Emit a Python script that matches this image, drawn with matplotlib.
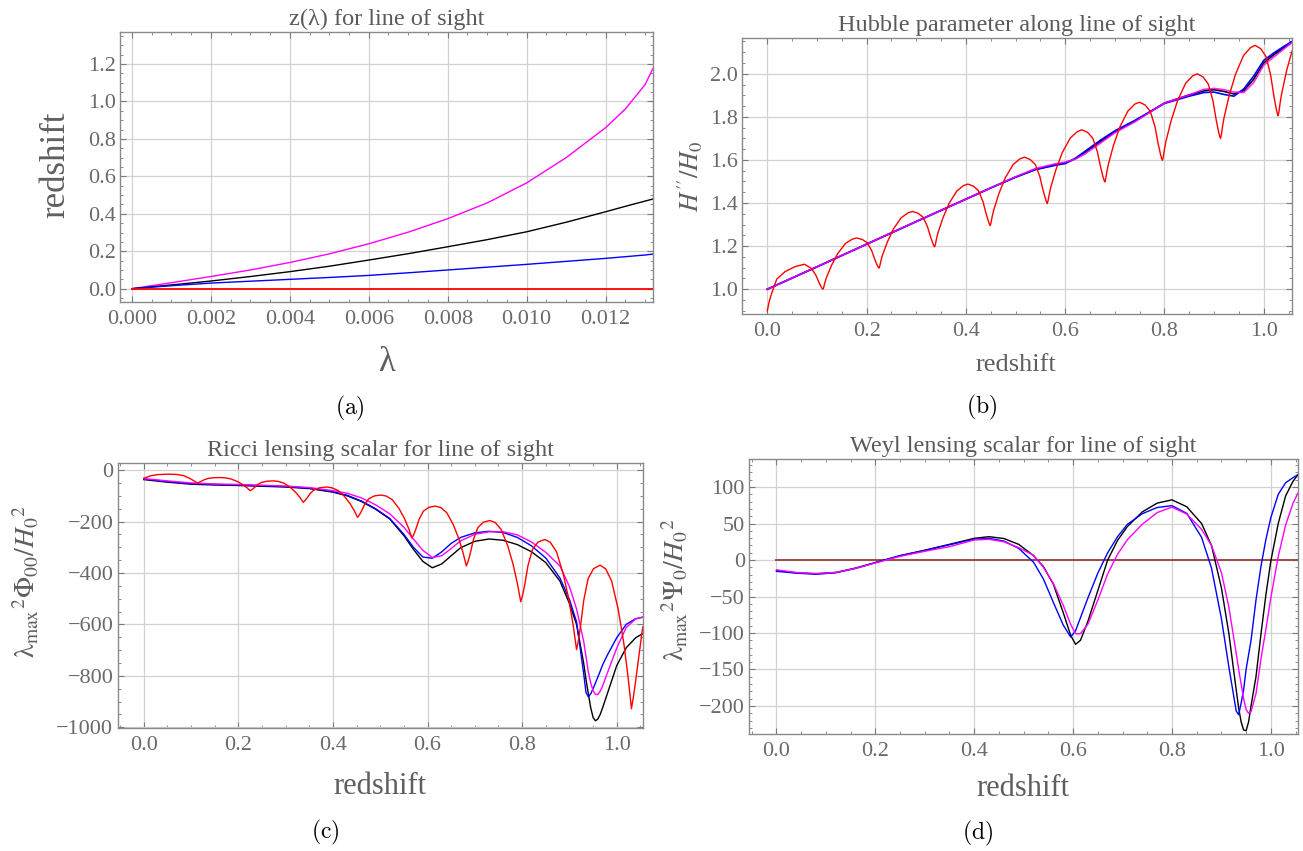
import numpy as np
import matplotlib
matplotlib.use("Agg")
import matplotlib.pyplot as plt
from matplotlib.ticker import MultipleLocator, FuncFormatter

plt.rcParams['font.family'] = ['Liberation Serif', 'DejaVu Serif']
plt.rcParams['mathtext.fontset'] = 'stix'

# ---------------- (a) z(lambda) ----------------
lam = [0, .001, .002, .003, .004, .005, .006, .007, .008, .009, .010, .011, .012, .0125, .013, .0132]
z_magenta_a = [0, .032, .065, .100, .140, .186, .240, .302, .374, .458, .565, .700, .860, .960, 1.09, 1.177]
z_black_a = [0, .020, .041, .065, .091, .120, .153, .187, .224, .262, .304, .355, .411, .440, .468, .479]
z_blue_a = [0, .016, .030, .040, .050, .060, .071, .085, .100, .115, .130, .146, .162, .171, .180, .185]
z_red_a = [0] * len(lam)

# ---------------- (b) Hubble parameter ----------------
zb = [0, .1, .2, .3, .4, .45, .5, .54, .58, .6, .62, .64, .67, .7, .74, .8, .85, .88, .9,
      .92, .94, .96, .98, 1.0, 1.02, 1.04, 1.057]
h_black = [1.0, 1.104, 1.209, 1.314, 1.418, 1.47, 1.52, 1.556, 1.578, 1.586, 1.605, 1.635, 1.684,
           1.73, 1.78, 1.864, 1.902, 1.921, 1.926, 1.918, 1.906, 1.922, 1.975, 2.05, 2.088, 2.12, 2.148]
h_blue = [1.0, 1.104, 1.209, 1.314, 1.418, 1.47, 1.52, 1.555, 1.575, 1.583, 1.607, 1.64, 1.69,
          1.735, 1.783, 1.862, 1.896, 1.913, 1.915, 1.904, 1.896, 1.93, 1.99, 2.062, 2.096, 2.126, 2.15]
h_magenta = [1.0, 1.104, 1.209, 1.314, 1.418, 1.47, 1.522, 1.56, 1.582, 1.59, 1.603, 1.628, 1.676,
             1.726, 1.776, 1.864, 1.902, 1.928, 1.932, 1.926, 1.915, 1.913, 1.96, 2.04, 2.077, 2.114, 2.145]

zb_red = [0, .004, .0088, .019, .036, .056, .075, .0885, .0974, .1036, .108, .1103, .112,
          .1137, .1160, .1188, .129, .1414, .1572, .1708, .1798, .1911, .2013, .2103, .2165, .2210, .2233, .225,
          .2267, .2289, .2317, .2418, .2541, .2698, .2832, .2922, .3034, .3135, .3224, .3286, .3331, .3353, .337,
          .3387, .3409, .3437, .3538, .3661, .3818, .3952, .4042, .4154, .4255, .4344, .4406, .4451, .4473, .449,
          .4507, .4530, .4559, .4663, .4789, .4950, .5088, .518, .5295, .5399, .5490, .5554, .5600, .5623, .564,
          .5657, .5681, .5710, .5814, .5942, .6104, .6243, .6336, .6452, .6556, .6649, .6713, .6759, .6783, .680,
          .6817, .6841, .6870, .6974, .7102, .7264, .7403, .7496, .7612, .7716, .7809, .7873, .7919, .7943, .796,
          .7978, .8001, .8030, .8136, .8264, .8428, .8568, .8662, .8779, .8884, .8978, .9042, .9089, .9112, .913,
          .9147, .9171, .9200, .9304, .9432, .9594, .9733, .9826, .9942, 1.0046, 1.0139, 1.0203, 1.0249, 1.0273, 1.029,
          1.0307, 1.0331, 1.036, 1.0464, 1.057]
h_red = [0.90, 0.945, 0.981, 1.047, 1.082, 1.105, 1.116, 1.097, 1.067, 1.034, 1.013, 1.004, 1.0,
         1.0095, 1.031, 1.052, 1.109, 1.164, 1.212, 1.232, 1.238, 1.231, 1.216, 1.179, 1.139, 1.113, 1.1029, 1.098,
         1.1085, 1.132, 1.156, 1.219, 1.280, 1.332, 1.354, 1.361, 1.353, 1.335, 1.292, 1.245, 1.215, 1.2027, 1.197,
         1.2086, 1.2348, 1.261, 1.331, 1.398, 1.456, 1.481, 1.488, 1.478, 1.457, 1.407, 1.352, 1.317, 1.3027, 1.296,
         1.3087, 1.3372, 1.366, 1.442, 1.515, 1.578, 1.605, 1.613, 1.602, 1.579, 1.523, 1.460, 1.422, 1.4055, 1.398,
         1.4117, 1.4425, 1.473, 1.555, 1.634, 1.702, 1.731, 1.740, 1.728, 1.701, 1.638, 1.568, 1.525, 1.5065, 1.498,
         1.5128, 1.5461, 1.579, 1.668, 1.753, 1.827, 1.859, 1.868, 1.855, 1.825, 1.755, 1.676, 1.628, 1.6075, 1.598,
         1.6141, 1.6503, 1.686, 1.783, 1.875, 1.956, 1.990, 2.000, 1.985, 1.952, 1.874, 1.787, 1.733, 1.7105, 1.700,
         1.7173, 1.7562, 1.795, 1.899, 1.998, 2.085, 2.121, 2.132, 2.116, 2.080, 1.995, 1.900, 1.841, 1.8164, 1.805,
         1.8234, 1.8648, 1.906, 2.017, 2.105]

# ---------------- (c) Ricci lensing scalar ----------------
zc = [0, .05, .1, .15, .2, .25, .3, .35, .4, .43, .46, .49, .52, .55, .57, .59, .61, .63, .65, .67,
      .70, .73, .76, .79, .82, .85, .88, .90, .915, .93, .935, .94, .945, .95, .955, .96, .965, .97, .98,
      1.0, 1.02, 1.04, 1.055]
r_black = [-37, -47, -55, -58, -60, -63, -66, -72, -86, -100, -122, -152, -190, -255, -308, -355, -380,
           -365, -333, -302, -277, -268, -273, -290, -318, -360, -432, -519, -600, -750, -815, -870, -925,
           -962, -975, -968, -950, -925, -870, -760, -691, -652, -636]
r_blue = [-35, -45, -53, -56, -58, -61, -64, -70, -84, -98, -120, -150, -188, -250, -300, -338, -343,
          -318, -285, -262, -244, -238, -243, -262, -295, -342, -420, -503, -590, -790, -865, -882, -870,
          -850, -828, -805, -782, -758, -720, -652, -600, -578, -572]
r_magenta = [-33, -42, -50, -54, -56, -59, -62, -68, -80, -90, -108, -135, -170, -222, -268, -312, -340,
             -333, -305, -275, -250, -240, -240, -252, -280, -320, -373, -453, -540, -665, -725, -785, -828,
             -858, -872, -873, -860, -840, -790, -692, -612, -579, -572]

zc_red = [0, .015, .03, .05, .07, .085, .097, .106, .113,
          .1169, .1214, .1276, .1365, .1477, .1612, .1724, .1847, .1981, .2093, .2183, .225,
          .2289, .2334, .2396, .2485, .2597, .2732, .2844, .2967, .3101, .3213, .3303, .337,
          .3410, .3456, .3520, .3611, .3727, .3864, .3980, .4106, .4244, .4359, .4451, .452,
          .4560, .4606, .4670, .4762, .4877, .5015, .5130, .5256, .5394, .5509, .5601, .567,
          .5710, .5756, .5820, .5912, .6027, .6165, .6280, .6406, .6544, .6659, .6751, .682,
          .6860, .6906, .6970, .7062, .7177, .7315, .7430, .7556, .7694, .7809, .7901, .797,
          .8011, .8059, .8123, .8218, .8336, .8477, .8595, .8725, .8867, .8985, .9079, .915,
          .9191, .9237, .9301, .9394, .9510, .9649, .9765, .9892, 1.0032, 1.0148, 1.0240, 1.031,
          1.035, 1.04, 1.047, 1.055]
r_red = [-32, -22, -17.5, -16, -17, -22, -32, -42, -50,
         -47.7, -43.9, -37.8, -32.4, -29.8, -29, -30.3, -34.6, -44.8, -56.5, -68.8, -80,
         -75.8, -69, -58, -48.1, -43.5, -42, -44.1, -51.1, -67.7, -86.8, -106.7, -125,
         -118.5, -107.9, -90.8, -75.4, -68.4, -66, -69, -79, -102.6, -129.7, -158, -184,
         -174.4, -158.8, -133.5, -110.9, -100.5, -97, -101.2, -115.4, -148.8, -187.2, -227.3, -264,
         -250.4, -228, -192.1, -159.8, -145, -140, -145.8, -165.6, -212.2, -265.8, -321.7, -373,
         -353.5, -321.7, -270.3, -224.3, -203.1, -196, -203.9, -230.8, -294, -366.6, -442.5, -512,
         -485.4, -441.8, -371.6, -308.7, -279.7, -270, -280.7, -317.1, -402.7, -501.1, -603.8, -698,
         -661.9, -602.9, -507.8, -422.5, -383.1, -370, -384, -431.4, -543, -671.3, -805.2, -928,
         -885, -820, -720, -610]

# ---------------- (d) Weyl lensing scalar ----------------
zd = [0, .04, .08, .12, .16, .2, .25, .3, .35, .4, .43, .46, .49, .52, .54, .56, .58, .595, .605, .615,
      .63, .65, .67, .69, .71, .74, .77, .8, .83, .86, .88, .9, .915, .93, .935, .94, .945, .95, .955, .96,
      .97, .98, .99, 1.0, 1.015, 1.03, 1.045, 1.055]
w_black = [-14.5, -17.5, -18.8, -17, -11, -3.5, 6, 13.5, 21.5, 29.8, 32, 29.5, 21.5, 6, -9, -33, -72,
           -103, -115.6, -110, -84, -42, 0, 27, 46, 66, 78, 82.5, 73, 50, 20, -38, -100, -178, -203, -222,
           -233, -234, -222, -200, -160, -102, -48, -1.6, 50, 88, 108, 117]
w_blue = [-15.5, -18, -19.5, -17.5, -11.5, -3.5, 6, 13, 21, 28.4, 29.8, 26, 16, -3, -26, -58, -89,
          -105.5, -97, -79, -52, -18, 10, 32, 49, 63.5, 72, 74.5, 64, 31, -11, -80, -146, -207, -212, -196,
          -178, -150, -130, -110, -55, -9, 28, 58, 90, 106, 113, 117]
w_magenta = [-13.5, -17, -18.5, -17, -11.5, -4, 5, 12, 18.3, 27.5, 28.4, 25, 17, 6.5, -10, -32, -62,
             -88, -101, -101, -88, -55, -19, 8, 28, 49, 65, 72.5, 63, 42, 20, -17, -64, -128, -150, -170,
             -190, -205, -210, -208, -183, -136, -95, -52, 5, 48, 78, 91.8]
zd_red = [0, 1.055]
w_red = [0, 0]

W, H = 1303, 851
fig = plt.figure(figsize=(W / 100, H / 100), dpi=100)


def box(l, t, r, b):
    return [l / W, 1 - b / H, (r - l) / W, (b - t) / H]


def fmt(nd):
    def f(v, pos):
        s = f'{v:.{nd}f}'
        if float(s) == 0:
            s = s.lstrip('-')
        return s.replace('-', '\u2212')
    return FuncFormatter(f)


def style(ax, xlim, ylim, xmaj, xmin, ymaj, ymin, xnd, ynd):
    ax.set_xlim(*xlim)
    ax.set_ylim(*ylim)
    ax.xaxis.set_major_locator(MultipleLocator(xmaj))
    ax.xaxis.set_minor_locator(MultipleLocator(xmin))
    ax.yaxis.set_major_locator(MultipleLocator(ymaj))
    ax.yaxis.set_minor_locator(MultipleLocator(ymin))
    ax.xaxis.set_major_formatter(fmt(xnd))
    ax.yaxis.set_major_formatter(fmt(ynd))
    ax.grid(True, which='major', color='#d2d2d2', lw=0.9)
    ax.set_axisbelow(True)
    ax.tick_params(which='both', direction='in', top=True, right=True,
                   color='#7a7a7a', labelcolor='#6a6a6a', labelsize=16)
    ax.tick_params(which='major', length=4.5, width=0.8)
    ax.tick_params(which='minor', length=2.5, width=0.6)
    ax.tick_params(axis='x', pad=6)
    ax.tick_params(axis='y', pad=3)
    for s in ax.spines.values():
        s.set_color('#8a8a8a')
        s.set_linewidth(1.0)


def title(ax, s):
    ax.set_title(s, fontsize=17.5, color='#5a5a5a', pad=5)


lw = 1.0
gray = '#5f5f5f'

# (a)
ax = fig.add_axes(box(120, 32, 653, 302))
ax.plot(lam, z_magenta_a, color='#ff00ff', lw=lw)
ax.plot(lam, z_black_a, color='black', lw=lw)
ax.plot(lam, z_blue_a, color='#0000ff', lw=lw)
ax.plot(lam, z_red_a, color='#ff0000', lw=lw * 1.3)
style(ax, (-0.0003, 0.0132), (-0.071, 1.371), 0.002, 0.0005, 0.2, 0.05, 3, 1)
title(ax, 'z(λ) for line of sight')
fig.text(56 / W, 1 - 165 / H, 'redshift', rotation=90, fontsize=25, color=gray, ha='center', va='center')
fig.text(387 / W, 1 - 362 / H, 'λ', fontsize=25, color=gray, ha='center', va='center')

# (b)
ax = fig.add_axes(box(742, 38, 1292, 314))
ax.plot(zb, h_black, color='black', lw=lw * 1.2)
ax.plot(zb, h_blue, color='#0000ff', lw=lw * 1.2)
ax.plot(zb, h_magenta, color='#ff00ff', lw=lw * 1.2, alpha=0.85)
ax.plot(zb_red, h_red, color='#ff0000', lw=lw)
style(ax, (-0.051, 1.057), (0.885, 2.166), 0.2, 0.05, 0.2, 0.05, 1, 1)
title(ax, 'Hubble parameter along line of sight')
fig.text(1016 / W, 1 - 365 / H, 'redshift', fontsize=19, color=gray, ha='center', va='center')
fig.text(690 / W, 1 - 176 / H, r'$H^{\prime\prime}/H_0$', rotation=90, fontsize=19, color=gray,
         ha='center', va='center')

# (c)
ax = fig.add_axes(box(117.5, 463, 643, 728))
ax.plot(zc, r_black, color='black', lw=lw)
ax.plot(zc, r_blue, color='#0000ff', lw=lw)
ax.plot(zc, r_magenta, color='#ff00ff', lw=lw)
ax.plot(zc_red, r_red, color='#ff0000', lw=lw)
style(ax, (-0.0555, 1.0555), (-1003, 27.5), 0.2, 0.05, 200, 50, 1, 0)
title(ax, 'Ricci lensing scalar for line of sight')
fig.text(380 / W, 1 - 787 / H, 'redshift', fontsize=22, color=gray, ha='center', va='center')
fig.text(26 / W, 1 - 582 / H, r'$\mathrm{λ}_{\mathrm{max}}{}^{2}\mathrm{Φ}_{00}/H_{0}{}^{2}$',
         rotation=90, fontsize=20, color=gray, ha='center', va='center')

# (d)
ax = fig.add_axes(box(749, 459, 1298, 734))
ax.plot(zd_red, w_red, color='#a04848', lw=1.4)
ax.plot(zd, w_black, color='black', lw=lw)
ax.plot(zd, w_blue, color='#0000ff', lw=lw)
ax.plot(zd, w_magenta, color='#ff00ff', lw=lw)
style(ax, (-0.0556, 1.055), (-238.5, 138.5), 0.2, 0.05, 50, 10, 1, 0)
title(ax, 'Weyl lensing scalar for line of sight')
fig.text(1023 / W, 1 - 788 / H, 'redshift', fontsize=22, color=gray, ha='center', va='center')
fig.text(675 / W, 1 - 590 / H, r'$\mathrm{λ}_{\mathrm{max}}{}^{2}\mathrm{Ψ}_{0}/H_{0}{}^{2}$',
         rotation=90, fontsize=20, color=gray, ha='center', va='center')

# panel captions
for x, y, s in [(350, 408, '(a)'), (982, 407, '(b)'), (325, 832, '(c)'), (978, 833, '(d)')]:
    fig.text(x / W, 1 - y / H, r'$\mathrm{' + s + '}$', fontsize=17, math_fontfamily='cm',
             ha='center', va='center', color='black')

fig.savefig('out.png', dpi=100)
